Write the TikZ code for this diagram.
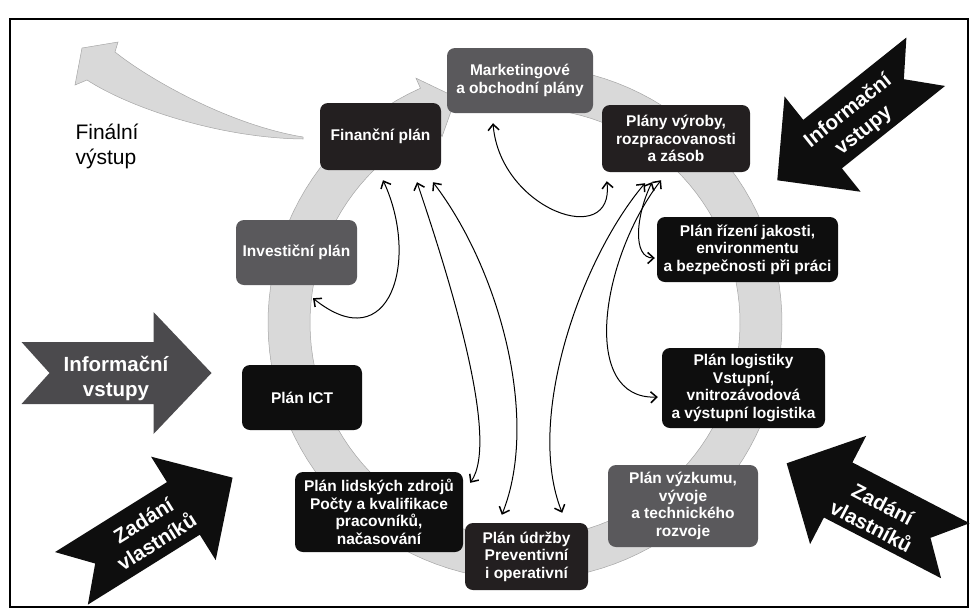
\documentclass[tikz,border=0pt]{standalone}
\usepackage{fontspec}
\setmainfont{Liberation Sans}
\usetikzlibrary{arrows.meta,calc}

\definecolor{plandark}{HTML}{231F20}
\definecolor{planblack}{HTML}{0E0E0E}
\definecolor{plangray}{HTML}{5A595C}
\definecolor{ringgray}{HTML}{D9D9D9}
\definecolor{inputgray}{HTML}{4B4A4D}

% wide arrow with notched tail: centre, angle, colour
\newcommand{\bigarrow}[3]{%
  \fill[#3,shift={(#1)},rotate=#2] (-95,-31) -- (37,-31) -- (37,-61) -- (95,0)
       -- (37,61) -- (37,31) -- (-95,31) -- (-67,0) -- cycle;}

\begin{document}
\begin{tikzpicture}[x=1pt,y=-1pt,
	plan/.style={rounded corners=8pt,text=white,align=center,inner sep=2pt,
	             font=\fontsize{15.5}{17.5}\selectfont\bfseries},
	arrtext/.style={text=white,align=center,font=\fontsize{20.5}{25}\selectfont\bfseries},
	link/.style={line width=1pt,
	             {Straight Barb[length=6pt,width=11pt,line width=1.5pt]}-{Straight Barb[length=6pt,width=11pt,line width=1.5pt]}}]

	\useasboundingbox (0,0) rectangle (971,614);
	\draw[line width=1.2pt] (10,19) rectangle (968,607);

	% cycle ring
	\filldraw[fill=ringgray,draw=black!35,line width=0.5pt]
		plot[domain=-98:246,samples=120] ({525+257*cos(\x)},{323+257*sin(\x)})
		-- ({525+268*cos(246)},{323+268*sin(246)})
		-- ({525+236*cos(253)},{323+236*sin(253)})
		-- ({525+204*cos(246)},{323+204*sin(246)})
		-- plot[domain=246:-98,samples=120] ({525+215*cos(\x)},{323+215*sin(\x)}) -- cycle;

	% final output arrow
	\filldraw[fill=ringgray,draw=black!35,line width=0.5pt]
		(303,137) .. controls (230,125) and (150,80) .. (115,52) -- (118,42) -- (82,48)
		-- (75,85) -- (87,80) .. controls (130,108) and (220,138) .. (303,139) -- cycle;
	\node[align=left,anchor=west,font=\fontsize{21}{25}\selectfont] (final) at (72,146) {Finální\\výstup};

	% inputs
	\bigarrow{116.5,373}{0}{inputgray}
	\bigarrow{152,528}{32}{planblack}
	\bigarrow{851.5,121}{218.6}{planblack}
	\bigarrow{871,507}{152.6}{planblack}
	\node[arrtext] (infoL) at (116,378) {Informační\\vstupy};
	\node[arrtext,rotate=32] (ownerL) at (150,531) {Zadání\\vlastníků};
	\node[arrtext,rotate=38.6] (infoR) at (856,121) {Informační\\vstupy};
	\node[arrtext,rotate=-27.4] (ownerR) at (877,515) {Zadání\\vlastníků};

	% plans
	\node[plan,fill=plangray,minimum width=146pt,minimum height=65pt] (mark) at (520,80.5) {Marketingové\\a obchodní plány};
	\node[plan,fill=plandark,minimum width=121pt,minimum height=67pt] (fin) at (380.5,136.5) {Finanční plán};
	\node[plan,fill=plandark,minimum width=148pt,minimum height=67pt] (vyr) at (676,138.5) {Plány výroby,\\rozpracovanosti\\a zásob};
	\node[plan,fill=planblack,minimum width=181pt,minimum height=65pt] (jak) at (747.5,249.5) {Plán řízení jakosti,\\environmentu\\a bezpečnosti při práci};
	\node[plan,fill=plangray,minimum width=121pt,minimum height=65pt] (inv) at (296.5,252.5) {Investiční plán};
	\node[plan,fill=planblack,minimum width=120pt,minimum height=65pt] (ict) at (302,397.5) {Plán ICT};
	\node[plan,fill=planblack,minimum width=163pt,minimum height=80pt] (log) at (743.5,388) {Plán logistiky\\Vstupní,\\vnitrozávodová\\a výstupní logistika};
	\node[plan,fill=planblack,minimum width=168pt,minimum height=80pt] (lid) at (379,512) {Plán lidských zdrojů\\Počty a kvalifikace\\pracovníků,\\načasování};
	\node[plan,fill=plandark,minimum width=123pt,minimum height=67pt] (udr) at (526.5,556.5) {Plán údržby\\Preventivní\\i operativní};
	\node[plan,fill=plangray,minimum width=150pt,minimum height=82pt] (vyz) at (683,506) {Plán výzkumu,\\vývoje\\a technického\\rozvoje};

	% links
	\draw[link] ($(fin.south)+(2.5,10)$) .. controls (420,260) and (390,360) .. ($(inv.south)+(16.5,13)$);
	\draw[link] ($(fin.south)+(36.5,12)$) .. controls (450,280) and (500,440) .. ($(lid.north east)+(7,11)$);
	\draw[link] ($(fin.south)+(52.5,12)$) .. controls (500,270) and (540,420) .. ($(udr.north west)+(37,-8)$);
	\draw[link] ($(vyr.south)+(-31,11)$) .. controls (580,260) and (525,420) .. ($(udr.north east)+(-26,-10)$);
	\draw[link] ($(mark.south)+(-27,10)$) .. controls (500,210) and (615,250) .. ($(vyr.south west)+(5,9)$);
	\draw[link] ($(vyr.south)+(-24,10)$) .. controls (636,215) and (632,258) .. ($(jak.west)+(-2,8.5)$);
	\draw[link] ($(vyr.south)+(-15,8)$) .. controls (600,260) and (580,400) .. ($(log.west)+(-4,9)$);

\end{tikzpicture}
\end{document}
